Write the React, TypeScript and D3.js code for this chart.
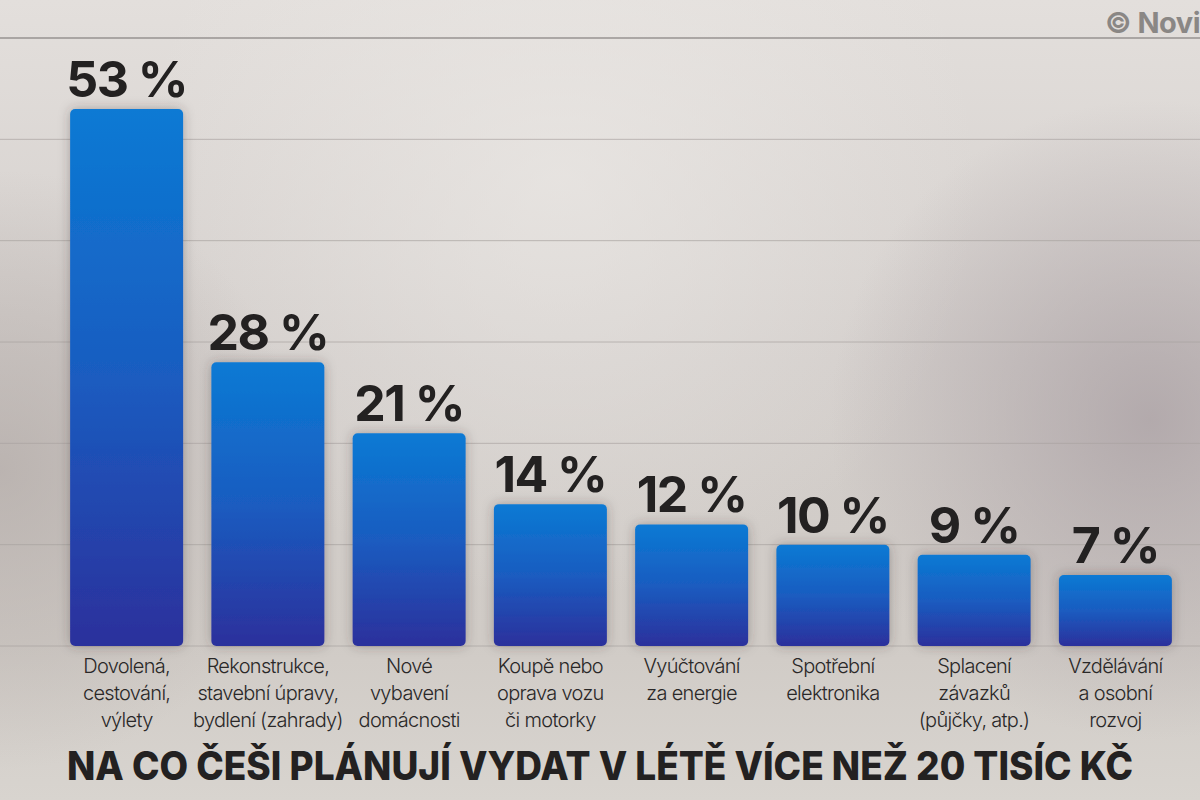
import React from "react";
import * as d3 from "d3";

const categories: string[][] = [
  ["Dovolená,", "cestování,", "výlety"],
  ["Rekonstrukce,", "stavební úpravy,", "bydlení (zahrady)"],
  ["Nové", "vybavení", "domácnosti"],
  ["Koupě nebo", "oprava vozu", "či motorky"],
  ["Vyúčtování", "za energie"],
  ["Spotřební", "elektronika"],
  ["Splacení", "závazků", "(půjčky, atp.)"],
  ["Vzdělávání", "a osobní", "rozvoj"],
];
const values: number[] = [53, 28, 21, 14, 12, 10, 9, 7];
const gridTicks: number[] = [0, 10, 20, 30, 40, 50, 60];
const title = "NA CO ČEŠI PLÁNUJÍ VYDAT V LÉTĚ VÍCE NEŽ 20 TISÍC KČ";
const credit = "© Novi";

const W = 1200;
const H = 800;

export default function App() {
  const idx = values.map((_, i) => String(i));
  const x = d3.scaleBand<string>().domain(idx).range([56, 1186]).paddingInner(0.2).paddingOuter(0.1);
  const y = d3.scaleLinear().domain([0, 60]).range([646, 38]);
  const font = "Inter, 'Liberation Sans', Arial, sans-serif";

  return (
    <div style={{ position: "absolute", left: 0, top: 0, width: W, height: H, overflow: "hidden" }}>
      <svg width={W} height={H} viewBox={`0 0 ${W} ${H}`} style={{ display: "block" }}>
        <defs>
          <linearGradient id="bg" x1="0" y1="0" x2="0" y2="1">
            <stop offset="0" stopColor="#e3dfdc" />
            <stop offset="0.45" stopColor="#d3cecb" />
            <stop offset="0.8" stopColor="#d0cbc6" />
            <stop offset="1" stopColor="#d8d4cf" />
          </linearGradient>
          <radialGradient id="glowR" cx="1150" cy="420" r="320" gradientUnits="userSpaceOnUse">
            <stop offset="0" stopColor="#a89ea2" stopOpacity="0.75" />
            <stop offset="1" stopColor="#a89ea2" stopOpacity="0" />
          </radialGradient>
          <radialGradient id="glowL" cx="0" cy="470" r="300" gradientUnits="userSpaceOnUse">
            <stop offset="0" stopColor="#b1a9a6" stopOpacity="0.7" />
            <stop offset="1" stopColor="#b1a9a6" stopOpacity="0" />
          </radialGradient>
          <radialGradient id="glowC" cx="560" cy="180" r="420" gradientUnits="userSpaceOnUse">
            <stop offset="0" stopColor="#ebe8e5" stopOpacity="0.7" />
            <stop offset="1" stopColor="#ebe8e5" stopOpacity="0" />
          </radialGradient>
          <linearGradient id="bar" x1="0" y1="0" x2="0" y2="1">
            <stop offset="0" stopColor="#0b7ad4" />
            <stop offset="0.5" stopColor="#1a5cc0" />
            <stop offset="1" stopColor="#2c309c" />
          </linearGradient>
          <filter id="shadow" x="-30%" y="-30%" width="160%" height="160%">
            <feDropShadow dx="0" dy="0" stdDeviation="6" floodColor="#3a3330" floodOpacity="0.35" />
          </filter>
        </defs>

        <rect x={0} y={0} width={W} height={H} fill="url(#bg)" />
        <rect x={0} y={0} width={W} height={H} fill="url(#glowC)" />
        <rect x={0} y={0} width={W} height={H} fill="url(#glowR)" />
        <rect x={0} y={0} width={W} height={H} fill="url(#glowL)" />

        {gridTicks.map((t) => (
          <line
            key={t}
            x1={0}
            x2={W}
            y1={y(t)}
            y2={y(t)}
            stroke={t === 60 ? "#8f8a88" : "#a8a2a0"}
            strokeOpacity={t === 60 ? 0.9 : 0.7}
            strokeWidth={t === 60 ? 1.5 : 1}
          />
        ))}

        <text
          x={1105}
          y={33}
          fontFamily={font}
          fontWeight={700}
          fontSize={29}
          fill="#8a8785"
          letterSpacing={-0.5}
        >
          {credit}
        </text>

        {values.map((v, i) => {
          const bx = x(String(i))!;
          const bw = x.bandwidth();
          const top = y(v);
          return (
            <g key={i}>
              <rect
                x={bx}
                y={top}
                width={bw}
                height={y(0) - top}
                rx={5}
                ry={5}
                fill="url(#bar)"
                filter="url(#shadow)"
              />
              <text
                x={bx + bw / 2}
                y={top - 12}
                textAnchor="middle"
                fontFamily={font}
                fontWeight={700}
                fontSize={50}
                fill="#232121"
                letterSpacing={-1.5}
              >
                {`${v} %`}
              </text>
              <text
                x={bx + bw / 2}
                y={673}
                textAnchor="middle"
                fontFamily={font}
                fontWeight={300}
                fontSize={20}
                fill="#2a2828"
                letterSpacing={-0.7}
              >
                {categories[i].map((line, j) => (
                  <tspan key={j} x={bx + bw / 2} dy={j === 0 ? 0 : 27}>
                    {line}
                  </tspan>
                ))}
              </text>
            </g>
          );
        })}

        <text
          x={600}
          y={780}
          textAnchor="middle"
          fontFamily={font}
          fontWeight={800}
          fontSize={39}
          fill="#232121"
          textLength={1066}
          lengthAdjust="spacingAndGlyphs"
        >
          {title}
        </text>
      </svg>
    </div>
  );
}
